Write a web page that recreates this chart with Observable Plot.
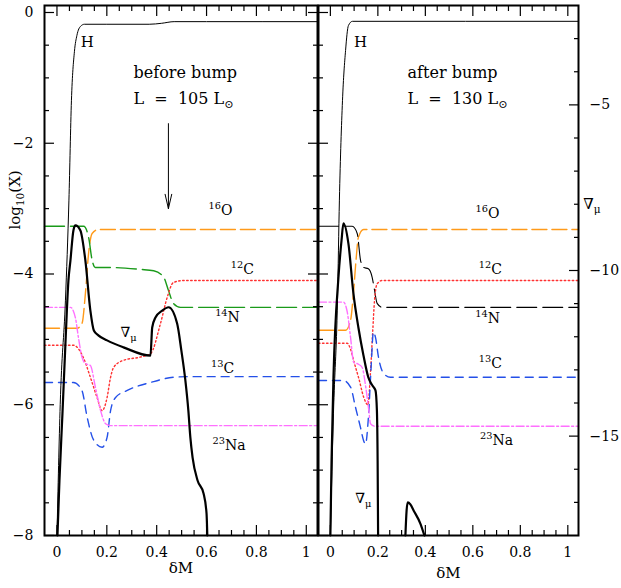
<!DOCTYPE html>
<html><head><meta charset="utf-8">
<script src="https://cdn.jsdelivr.net/npm/d3@7"></script>
<script src="https://cdn.jsdelivr.net/npm/@observablehq/plot@0.6"></script>
<style>
html,body{margin:0;padding:0;background:#fff;}
#chart{position:relative;width:621px;height:588px;font-family:"DejaVu Serif",serif;}
#chart svg{position:absolute;top:0;overflow:visible;}
#chart svg text{white-space:pre;}
</style></head><body><div id="chart"></div>
<script>
// ================= DATA (δM, log10 X) ; ∇μ curves in ∇μ units =================
// ---- before bump (L = 105 Lsun) ----
const beforeH = [[0.0,-8],[0.013,-6],[0.034,-4.4],[0.048,-2.87],[0.058,-1.35],[0.07,-0.6],[0.08,-0.35],[0.095,-0.21],[0.11,-0.18],[0.2,-0.18],[0.37,-0.18],[0.42,-0.165],[0.47,-0.14],[0.6,-0.14],[1.045,-0.14]];
const beforeNabla = [[0.002,-18],[0.01,-16.34],[0.022,-14.32],[0.034,-12.2],[0.046,-10.3],[0.054,-9.7],[0.066,-8.79],[0.074,-8.64],[0.094,-8.79],[0.114,-9.7],[0.134,-11.21],[0.148,-11.81],[0.166,-11.96],[0.201,-12.11],[0.267,-12.32],[0.375,-12.57],[0.382,-11.72],[0.395,-11.42],[0.422,-11.21],[0.448,-11.11],[0.482,-11.6],[0.499,-12.42],[0.515,-13.32],[0.527,-14.23],[0.535,-15.04],[0.544,-15.65],[0.564,-16.34],[0.588,-16.73],[0.6,-17.34],[0.603,-18]];
const beforeO16 = [[-0.05,-4.83],[0.081,-4.83],[0.101,-4.75],[0.114,-4.3],[0.128,-3.64],[0.141,-3.38],[0.166,-3.32],[1.045,-3.32]];
const beforeN14 = [[-0.05,-3.27],[0.107,-3.27],[0.127,-3.44],[0.141,-3.79],[0.154,-3.9],[0.2,-3.9],[0.335,-3.93],[0.388,-3.95],[0.428,-4.05],[0.447,-4.25],[0.467,-4.45],[0.495,-4.51],[1.045,-4.51]];
const beforeC12 = [[-0.05,-5.09],[0.066,-5.09],[0.106,-5.28],[0.134,-5.58],[0.161,-5.89],[0.181,-6.09],[0.201,-5.89],[0.215,-5.58],[0.227,-5.43],[0.267,-5.32],[0.335,-5.27],[0.375,-5.22],[0.415,-4.76],[0.442,-4.36],[0.467,-4.13],[0.508,-4.1],[1.045,-4.1]];
const beforeC13 = [[-0.05,-5.66],[0.066,-5.66],[0.1,-5.78],[0.121,-6.19],[0.147,-6.54],[0.181,-6.65],[0.201,-6.5],[0.215,-6.09],[0.235,-5.89],[0.282,-5.78],[0.375,-5.66],[0.467,-5.58],[0.535,-5.57],[1.045,-5.57]];
const beforeNa23 = [[-0.05,-4.51],[0.054,-4.51],[0.074,-4.67],[0.086,-4.97],[0.101,-5.28],[0.114,-5.37],[0.134,-5.4],[0.154,-5.73],[0.175,-6.09],[0.195,-6.29],[0.215,-6.32],[1.045,-6.32]];

// ---- after bump (L = 130 Lsun) ----
const afterH = [[0.0,-8],[0.013,-6.13],[0.03,-4.4],[0.038,-2.87],[0.051,-1.35],[0.064,-0.58],[0.076,-0.2],[0.093,-0.135],[1.045,-0.135]];
const afterNabla = [[0.0,-18],[0.005,-15.74],[0.013,-13.23],[0.034,-10.21],[0.047,-9.09],[0.055,-8.58],[0.076,-9.19],[0.097,-10.69],[0.118,-11.72],[0.139,-12.55],[0.16,-13.23],[0.177,-13.47],[0.19,-13.62],[0.196,-14.23],[0.199,-15.74],[0.201,-18]];
const afterNablaOuter = [[0.316,-18],[0.321,-17.25],[0.326,-17.0],[0.337,-17.06],[0.351,-17.25],[0.379,-17.64],[0.396,-18]];
const afterO16 = [[-0.05,-4.86],[0.064,-4.86],[0.085,-4.71],[0.097,-4.3],[0.108,-3.79],[0.118,-3.44],[0.14,-3.32],[1.045,-3.32]];
const afterN14 = [[-0.05,-3.27],[0.092,-3.27],[0.113,-3.38],[0.127,-3.79],[0.14,-3.9],[0.16,-3.92],[0.176,-4.05],[0.186,-4.25],[0.197,-4.45],[0.218,-4.51],[1.045,-4.51]];
const afterC12 = [[-0.05,-5.06],[0.071,-5.06],[0.085,-5.15],[0.1,-5.35],[0.12,-5.6],[0.14,-5.88],[0.158,-6.0],[0.169,-5.5],[0.178,-4.9],[0.186,-4.4],[0.197,-4.15],[0.218,-4.1],[1.045,-4.1]];
const afterC13 = [[-0.05,-5.63],[0.055,-5.63],[0.085,-5.73],[0.106,-6.04],[0.127,-6.35],[0.14,-6.55],[0.148,-6.6],[0.16,-6.2],[0.172,-5.4],[0.181,-4.89],[0.19,-4.97],[0.203,-5.28],[0.224,-5.52],[0.253,-5.58],[1.045,-5.58]];
const afterNa23 = [[-0.05,-4.43],[0.055,-4.43],[0.071,-4.58],[0.085,-4.97],[0.098,-5.35],[0.118,-5.38],[0.134,-5.43],[0.149,-5.73],[0.162,-6.09],[0.169,-6.29],[0.19,-6.33],[1.045,-6.33]];

// ---- axes ----
const xTickValues = [0, 0.2, 0.4, 0.6, 0.8, 1];
const yTickValues = [-8, -6, -4, -2, 0];
const nablaTickValues = [-15, -10, -5];
const xDomain = [-0.05, 1.045];
const yDomain = [-8, 0.107];
const nablaDomain = [-18, -2];

// ---- annotations ----
const beforeNotes = [
  {x:0.122, y:-0.46, text:"H", size:15},
  {x:0.656, y:-3.03, text:"^{16}O", size:14},
  {x:0.744, y:-3.93, text:"^{12}C", size:14},
  {x:0.684, y:-4.67, text:"^{14}N", size:14},
  {x:0.664, y:-5.45, text:"^{13}C", size:14},
  {x:0.690, y:-6.62, text:"^{23}Na", size:14},
  {x:0.287, y:-4.89, text:"∇_{μ}", size:14}
];
const beforeTitle = [
  {x:0.307, y:-0.93, text:"before bump"},
  {x:0.307, y:-1.32, text:"L  =  105 L_{⊙}"}
];
const beforeArrow = [{x:0.447, y1:-1.70, y2:-3.0}];
const afterNotes = [
  {x:0.127, y:-0.46, text:"H", size:15},
  {x:0.662, y:-3.07, text:"^{16}O", size:14},
  {x:0.674, y:-3.93, text:"^{12}C", size:14},
  {x:0.662, y:-4.68, text:"^{14}N", size:14},
  {x:0.674, y:-5.37, text:"^{13}C", size:14},
  {x:0.700, y:-6.55, text:"^{23}Na", size:14},
  {x:0.139, y:-7.43, text:"∇_{μ}", size:14}
];
const afterTitle = [
  {x:0.325, y:-0.93, text:"after bump"},
  {x:0.325, y:-1.32, text:"L  =  130 L_{⊙}"}
];

// ================= RENDER =================
const SVG_H = 588, M_TOP = 5, M_BOTTOM = 53;
const innerH = SVG_H - M_TOP - M_BOTTOM;
const toY = n => yDomain[0] + (n - nablaDomain[0]) * (yDomain[1] - yDomain[0]) / (nablaDomain[1] - nablaDomain[0]);

const col = {O16:"#ff9a1a", C12:"#ff3030", N14:"#1a9a1a", C13:"#2450e8", Na23:"#ff70ff"};

function seriesMarks(s) {
  return s.map(o => Plot.line(o.data, {
    x: d => d[0], y: o.nabla ? (d => toY(d[1])) : (d => d[1]),
    stroke: o.stroke, strokeWidth: o.sw || 1.4, strokeDasharray: o.dash,
    curve: "monotone-x"
  }));
}

const xMinor = d3.range(1, 21).filter(i => i % 4 !== 0).map(i => i * 0.05);
const yMinor = d3.range(-15, 0).filter(i => i % 4 !== 0).map(i => i * 0.5);
const nMinor = d3.range(-17, -2).filter(i => i % 5 !== 0);

// inward tick marks via the library's axis marks (negative tick size points into the frame)
function tickAxes(rightNabla) {
  const none = () => "";
  const m = [];
  for (const anchor of ["bottom", "top"]) {
    m.push(Plot.axisX({anchor, ticks: xTickValues, tickSize: -10, tickFormat: none, label: null, strokeWidth: 1.2}));
    m.push(Plot.axisX({anchor, ticks: xMinor, tickSize: -5, tickFormat: none, label: null, strokeWidth: 1.2}));
  }
  m.push(Plot.axisY({anchor: "left", ticks: yTickValues, tickSize: -10, tickFormat: none, label: null, strokeWidth: 1.2}));
  m.push(Plot.axisY({anchor: "left", ticks: yMinor, tickSize: -5, tickFormat: none, label: null, strokeWidth: 1.2}));
  if (rightNabla) {
    m.push(Plot.axisY({anchor: "right", ticks: nablaTickValues.map(toY), tickSize: -10, tickFormat: none, label: null, strokeWidth: 1.2}));
    m.push(Plot.axisY({anchor: "right", ticks: nMinor.map(toY), tickSize: -5, tickFormat: none, label: null, strokeWidth: 1.2}));
  } else {
    m.push(Plot.axisY({anchor: "right", ticks: yTickValues, tickSize: -10, tickFormat: none, label: null, strokeWidth: 1.2}));
    m.push(Plot.axisY({anchor: "right", ticks: yMinor, tickSize: -5, tickFormat: none, label: null, strokeWidth: 1.2}));
  }
  return m;
}

function makePanel(cfg) {
  const marks = [
    ...seriesMarks(cfg.series),
    ...tickAxes(cfg.right),
    Plot.frame({stroke: "black", strokeWidth: 2}),
    Plot.axisX({ticks: xTickValues, tickSize: 0, tickPadding: 12, tickFormat: d => String(d), label: null, fontSize: 14}),
    Plot.text(["δM"], {frameAnchor: "bottom", dy: cfg.xLabelDy, fontSize: 15}),
    Plot.text(cfg.notes, {x: "x", y: "y", text: "text", fontSize: "size", textAnchor: "middle"}),
    Plot.text(cfg.title, {x: "x", y: "y", text: "text", fontSize: 16, textAnchor: "start"})
  ];
  if (cfg.arrow) marks.push(Plot.arrow(cfg.arrow, {x1: "x", x2: "x", y1: "y1", y2: "y2", stroke: "black", strokeWidth: 1, headLength: 22, headAngle: 26}));
  if (cfg.right) {
    marks.push(Plot.axisY({anchor: "right", ticks: nablaTickValues.map(toY), tickSize: 0, tickPadding: 11,
      tickFormat: d => "\u2212" + Math.abs(Math.round(nablaDomain[0] + (d - yDomain[0]) * (nablaDomain[1] - nablaDomain[0]) / (yDomain[1] - yDomain[0]))), label: null, fontSize: 14}));
    marks.push(Plot.text(["∇_{μ}"], {frameAnchor: "right", dx: 22, dy: -66, fontSize: 15}));
  } else {
    marks.push(Plot.axisY({anchor: "left", ticks: yTickValues, tickSize: 0, tickPadding: 11, label: null, fontSize: 14}));
    marks.push(Plot.text(["log_{10}(X)"], {frameAnchor: "left", dx: -29, dy: -41, rotate: -90, fontSize: 15}));
  }
  const svg = Plot.plot({
    width: cfg.width, height: SVG_H,
    marginLeft: cfg.marginLeft, marginRight: cfg.marginRight, marginTop: M_TOP, marginBottom: M_BOTTOM,
    x: {domain: xDomain}, y: {domain: yDomain},
    style: {background: "transparent", fontFamily: "DejaVu Serif, serif", fontSize: "14px", color: "black", overflow: "visible"},
    marks
  });
  svg.style.left = cfg.left + "px";
  return svg;
}

const before = makePanel({
  left: 0, width: 320, marginLeft: 44, marginRight: 3, right: false, xLabelDy: 37,
  notes: beforeNotes, title: beforeTitle, arrow: beforeArrow,
  series: [
    {data: beforeO16, stroke: col.O16, dash: "15,5"},
    {data: beforeN14, stroke: col.N14, dash: "20,6"},
    {data: beforeC12, stroke: col.C12, dash: "1.5,2.5"},
    {data: beforeC13, stroke: col.C13, dash: "8,6"},
    {data: beforeNa23, stroke: col.Na23, dash: "8,2.5,2,2.5"},
    {data: beforeH, stroke: "black", sw: 1},
    {data: beforeNabla, stroke: "black", sw: 2.2, nabla: true}
  ]
});
const after = makePanel({
  left: 300, width: 321, marginLeft: 18, marginRight: 43, right: true, xLabelDy: 42,
  notes: afterNotes, title: afterTitle,
  series: [
    {data: afterO16, stroke: col.O16, dash: "15,5"},
    {data: afterN14, stroke: "black", dash: "20,6", sw: 1.1},
    {data: afterC12, stroke: col.C12, dash: "1.5,2.5"},
    {data: afterC13, stroke: col.C13, dash: "8,6"},
    {data: afterNa23, stroke: col.Na23, dash: "8,2.5,2,2.5"},
    {data: afterH, stroke: "black", sw: 1},
    {data: afterNabla, stroke: "black", sw: 2.2, nabla: true},
    {data: afterNablaOuter, stroke: "black", sw: 2.2, nabla: true}
  ]
});
const chart = document.getElementById("chart");
chart.appendChild(before);
chart.appendChild(after);

// rich text: ^{sup} and _{sub}
function rich(svg) {
  d3.select(svg).selectAll("text").each(function() {
    const t = this.textContent;
    if (!/[\^_]\{/.test(t)) return;
    const sel = d3.select(this);
    sel.text(null);
    const re = /([\^_])\{([^}]*)\}|([^\^_]+)/g;
    let m, shift = 0;
    while ((m = re.exec(t))) {
      if (m[3] !== undefined) {
        const ts = sel.append("tspan").text(m[3]);
        if (shift) { ts.attr("dy", -shift); shift = 0; }
      } else {
        const s = m[1] === "^" ? -6 : 4;
        sel.append("tspan").attr("font-size", "70%").attr("dy", s - shift).text(m[2]);
        shift = s;
      }
    }
  });
}
rich(before); rich(after);
</script>
</body></html>
